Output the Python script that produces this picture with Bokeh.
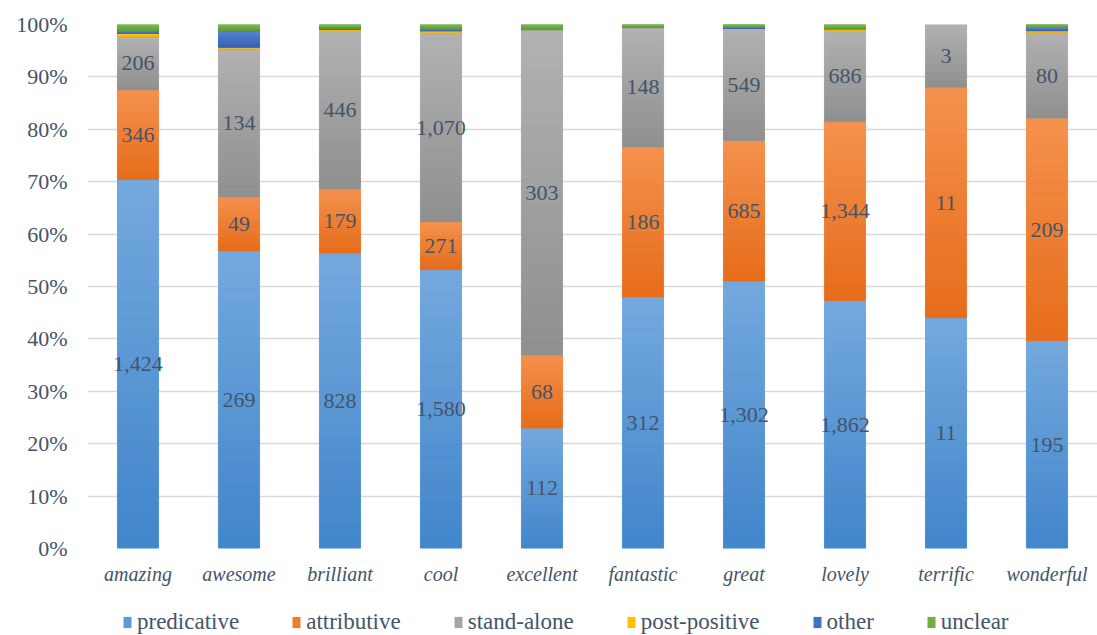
from bokeh.plotting import figure
from bokeh.layouts import column
from bokeh.models import (ColumnDataSource, FactorRange, Range1d, FixedTicker,
                          NumeralTickFormatter, Legend, LegendItem)
from bokeh.core.properties import value
from bokeh.embed import file_html
from bokeh.resources import INLINE

categories = ["amazing", "awesome", "brilliant", "cool", "excellent",
              "fantastic", "great", "lovely", "terrific", "wonderful"]
predicative = [1424, 269, 828, 1580, 112, 312, 1302, 1862, 11, 195]
attributive = [346, 49, 179, 271, 68, 186, 685, 1344, 11, 209]
stand_alone = [206, 134, 446, 1070, 303, 148, 549, 686, 3, 80]
post_positive = [13, 1, 2, 13, 0, 0, 0, 8, 0, 2]
other = [8, 15, 3, 9, 0, 0, 5, 0, 0, 3]
unclear = [26, 6, 11, 27, 5, 4, 13, 37, 0, 3]

series_names = ["predicative", "attributive", "stand-alone", "post-positive", "other", "unclear"]
series_vals = [predicative, attributive, stand_alone, post_positive, other, unclear]
colors = ["#5B9BD5", "#ED7D31", "#A5A5A5", "#FFC000", "#4472C4", "#70AD47"]
light_colors = ["#74A9DE", "#F5924F", "#B2B2B2", "#FFCB2E", "#5A85D2", "#80BA5A"]
dark_colors = ["#4185CB", "#E66C1A", "#8F8F8F", "#F0B400", "#3462B5", "#5E9A36"]
y_ticks = [0, 0.1, 0.2, 0.3, 0.4, 0.5, 0.6, 0.7, 0.8, 0.9, 1.0]

TEXT = "#44546A"
FONT = "Liberation Serif"
N_SLICES = 24
BAR_W = 0.41

totals = [sum(v[i] for v in series_vals) for i in range(len(categories))]
data = {"cat": categories}
keys = []
for name, vals in zip(series_names, series_vals):
    k = name.replace("-", "_")
    keys.append(k)
    data[k] = [v / t for v, t in zip(vals, totals)]
source = ColumnDataSource(data)

p = figure(x_range=FactorRange(*categories, range_padding=0), y_range=Range1d(0, 1),
           frame_width=1010, frame_height=524, output_backend="svg", toolbar_location=None,
           min_border_left=87, min_border_right=0, min_border_top=24, min_border_bottom=58)
p.outline_line_color = None

renderers = p.vbar_stack(keys, x="cat", width=BAR_W, source=source, color=colors,
                         line_color=None)


def hex_to_rgb(h):
    h = h.lstrip("#")
    return tuple(int(h[j:j + 2], 16) for j in (0, 2, 4))


def lerp(c1, c2, f):
    a, b = hex_to_rgb(c1), hex_to_rgb(c2)
    return "#%02x%02x%02x" % tuple(round(a[j] + (b[j] - a[j]) * f) for j in range(3))


# gradient overlay (dark at the bottom, light at the top of each segment)
gx, gb, gt, gc = [], [], [], []
for i, c in enumerate(categories):
    base = 0.0
    for s in range(len(keys)):
        frac = data[keys[s]][i]
        if frac > 0:
            for k in range(N_SLICES):
                gx.append(c)
                gb.append(base + frac * k / N_SLICES)
                gt.append(base + frac * (k + 1) / N_SLICES)
                gc.append(lerp(dark_colors[s], light_colors[s], (k + 0.5) / N_SLICES))
        base += frac
gsrc = ColumnDataSource(dict(x=gx, b=gb, t=gt, c=gc))
p.vbar(x="x", bottom="b", top="t", width=BAR_W, source=gsrc, fill_color="c",
       line_color="c", line_width=0.3)

# data labels for first three series
lx, ly, lt = [], [], []
for i, c in enumerate(categories):
    base = 0.0
    for s in range(3):
        frac = data[keys[s]][i]
        lx.append(c)
        ly.append(base + frac / 2)
        lt.append(f"{series_vals[s][i]:,}")
        base += frac
lsrc = ColumnDataSource(dict(x=lx, y=ly, t=lt))
p.text(x="x", y="y", text="t", source=lsrc, text_align="center", text_baseline="middle",
       text_font=value(FONT), text_font_size="22px", text_color=TEXT)

p.yaxis.ticker = FixedTicker(ticks=y_ticks)
p.yaxis.formatter = NumeralTickFormatter(format="0%")
p.yaxis.axis_line_color = None
p.yaxis.major_tick_line_color = None
p.yaxis.minor_tick_line_color = None
p.yaxis.major_tick_out = 0
p.yaxis.major_label_text_font = FONT
p.yaxis.major_label_text_font_size = "22px"
p.yaxis.major_label_text_color = TEXT
p.yaxis.major_label_standoff = 20

p.xaxis.axis_line_color = None
p.xaxis.major_tick_line_color = None
p.xaxis.major_tick_out = 0
p.xaxis.major_label_text_font = FONT
p.xaxis.major_label_text_font_style = "italic"
p.xaxis.major_label_text_font_size = "20px"
p.xaxis.major_label_text_color = TEXT
p.xaxis.major_label_standoff = 14

p.xgrid.grid_line_color = None
p.ygrid.grid_line_color = "#D9D9D9"
p.ygrid.grid_line_width = 1.5

# separate strip for the legend below the chart (frame aligned with the chart's frame)
lf = figure(width=1097, height=29, output_backend="svg", toolbar_location=None,
            x_range=Range1d(0, 1), y_range=Range1d(0, 1),
            min_border_left=0, min_border_right=0, min_border_top=0, min_border_bottom=0,
            x_axis_location=None, y_axis_location=None)
lf.outline_line_color = None
lf.xgrid.grid_line_color = None
lf.ygrid.grid_line_color = None
offscreen = ColumnDataSource(dict(x=[0.5], top=[-2], bottom=[-3]))
leg_renderers = [lf.vbar(x="x", top="top", bottom="bottom", width=0.01, source=offscreen,
                         color=c, line_color=None)
                 for c in colors]
legend = Legend(items=[LegendItem(label=n, renderers=[r]) for n, r in zip(series_names, leg_renderers)],
                orientation="horizontal", location=(35, 0),
                label_text_font=FONT, label_text_font_size="23px", label_text_color=TEXT,
                glyph_width=10, glyph_height=14, label_standoff=5, spacing=52,
                border_line_color=None, background_fill_alpha=0, padding=0, margin=0)
lf.add_layout(legend, "center")

layout = column(p, lf, spacing=0)
open("out.html", "w").write(file_html(layout, INLINE))
